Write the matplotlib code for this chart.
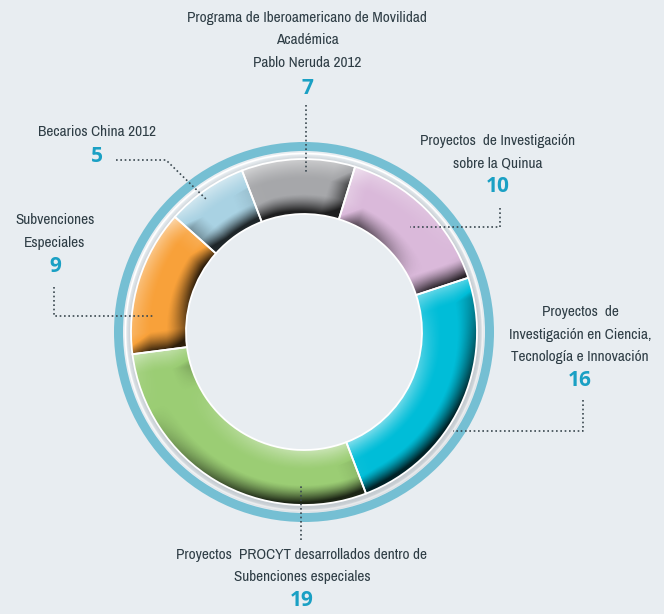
import numpy as np
import matplotlib
matplotlib.use('Agg')
from matplotlib import pyplot as plt
from matplotlib.patches import Wedge, Circle

labels = ['Programa de Iberoamericano de Movilidad\nAcadémica\nPablo Neruda 2012',
          'Proyectos  de Investigación\nsobre la Quinua',
          'Proyectos  de\nInvestigación en Ciencia,\nTecnología e Innovación',
          'Proyectos  PROCYT desarrollados dentro de\nSubenciones especiales',
          'Subvenciones\nEspeciales',
          'Becarios China 2012']
values = [7, 10, 16, 19, 9, 5]
colors = ['#a6a7aa', '#dab9da', '#00bdd8', '#9bcd74', '#f8a13a', '#a9d2e3']

W, H = 664, 614
bg = '#e8edf1'
text_col = '#2e3d45'
num_col = '#1aa0c4'
cx, cy = 304, H - 332
r_out, r_in = 173, 118
fam = ['Archivo Narrow', 'Liberation Sans Narrow', 'DejaVu Sans']

fig = plt.figure(figsize=(W / 100, H / 100), dpi=100, facecolor=bg)
ax = fig.add_axes([0, 0, 1, 1])

# outer decorative ring
ax.add_patch(Wedge((cx, cy), 190, 0, 360, width=9, color='#75bfd3', lw=0))
ax.add_patch(Circle((cx, cy), 178.5, fill=False, ec='white', lw=1.2))
# soft shadow under donut
for k in range(6):
    ax.add_patch(Wedge((cx + 1, cy - 2), r_out + 1 + k, 0, 360, width=k + 3,
                       color='#7d8790', alpha=0.06, lw=0))

wedges, _ = ax.pie(values, colors=colors, startangle=111, counterclock=False,
                   radius=r_out, center=(cx, cy), frame=True,
                   wedgeprops=dict(width=r_out - r_in, lw=0))

# bevel shading, light from upper left
x0, x1 = cx - r_out - 2, cx + r_out + 2
y0, y1 = cy - r_out - 2, cy + r_out + 2
xs = np.arange(x0, x1, 1.0) + 0.5
ys = np.arange(y0, y1, 1.0) + 0.5
xx, yy = np.meshgrid(xs, ys)
dx, dy = xx - cx, yy - cy
r = np.hypot(dx, dy)
th = np.degrees(np.arctan2(dy, dx))
L = np.array([-0.45, 0.89])
b = 20.0


def fall(d):
    return np.clip(1 - d / b, 0, 1) ** 1.3


for w in wedges:
    t1, t2 = w.theta1, w.theta2
    span = t2 - t1
    a = (th - t1) % 360
    d1 = r * np.radians(a)
    d2 = r * np.radians(np.clip(span - a, 0, None))
    c, s = np.cos(np.radians(th)), np.sin(np.radians(th))
    shade = fall(r - r_in) * (-c * L[0] - s * L[1])
    shade += fall(r_out - r) * (c * L[0] + s * L[1])
    rt1 = np.radians(t1)
    rt2 = np.radians(t2)
    shade += 0.8 * fall(d1) * (np.sin(rt1) * L[0] - np.cos(rt1) * L[1])
    shade += 0.8 * fall(d2) * (-np.sin(rt2) * L[0] + np.cos(rt2) * L[1])
    img = np.zeros(xx.shape + (4,))
    pos = shade > 0
    img[pos, :3] = 1.0
    img[..., 3] = np.where(pos, shade * 0.5, np.clip(-shade * 1.1, 0, 0.82))
    im = ax.imshow(img, extent=(x0, x1, y0, y1), origin='lower',
                   interpolation='bilinear', zorder=2)
    im.set_clip_path(w)
    ax.add_patch(Wedge(w.center, w.r, t1, t2, width=w.width, fill=False,
                       ec='white', lw=1.3, zorder=3))

# leader lines (image pixel coords)
leaders = [
    [(306, 105), (306, 172)],
    [(500, 208), (500, 227), (410, 227)],
    [(583, 400), (583, 431), (453, 431)],
    [(301, 540), (301, 484)],
    [(54, 287), (54, 316), (153, 316)],
    [(116, 160), (166, 160), (207, 200)],
]
for pts in leaders:
    px = [p[0] for p in pts]
    py = [H - p[1] for p in pts]
    ax.plot(px, py, color='#3a4850', lw=1.2, ls=(0, (1, 1.6)), zorder=4)

# label positions: (x, y of first line, y of number)
label_pos = [(307, 18, 88), (498, 141, 187), (580, 312, 381),
             (302, 555, 601), (55, 220, 266), (97, 132, 157)]
for lab, v, (lx, ly, ny) in zip(labels, values, label_pos):
    for i, line in enumerate(lab.split('\n')):
        ax.text(lx, H - (ly + i * 22.5), line, ha='center', va='center',
                fontsize=11, family=fam, color=text_col, zorder=5)
    ax.text(lx, H - ny, str(v), ha='center', va='center', fontsize=15,
            family=['Open Sans', 'DejaVu Sans'], fontweight='bold',
            color=num_col, zorder=5)

ax.set_xlim(0, W)
ax.set_ylim(0, H)
ax.set_aspect('equal')
ax.axis('off')
fig.savefig('out.png', dpi=100, facecolor=bg)
